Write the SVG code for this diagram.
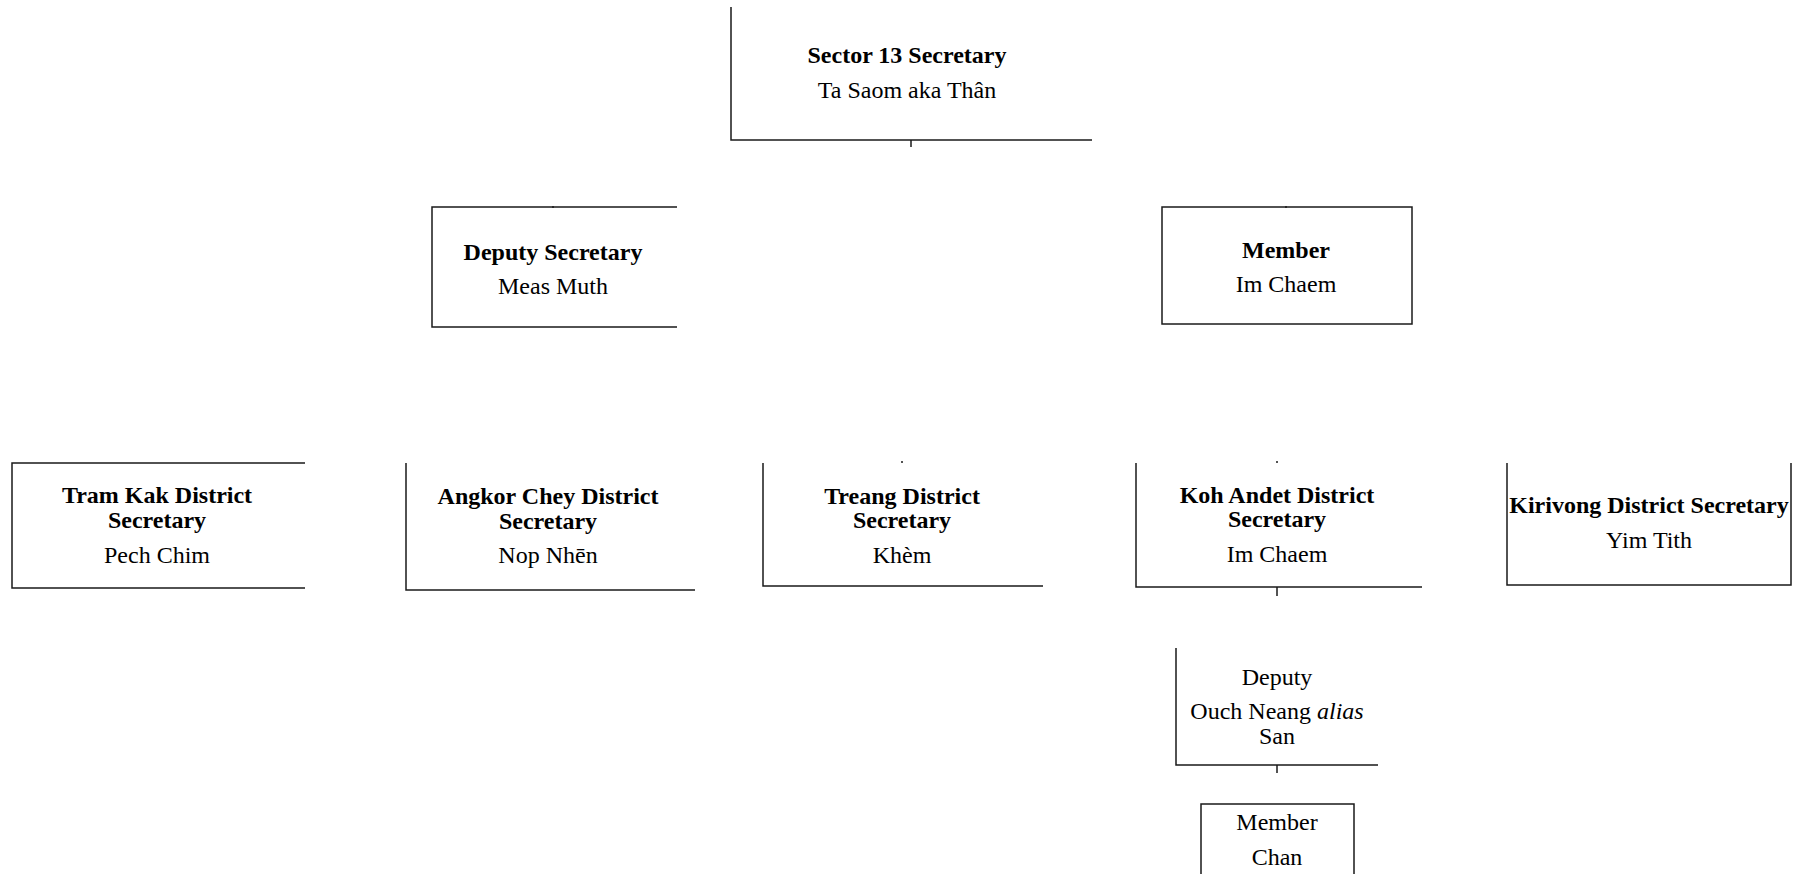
<svg xmlns="http://www.w3.org/2000/svg" width="1802" height="874" viewBox="0 0 1802 874">
<style>
.ln{stroke:#1a1a1a;stroke-width:1.5;fill:none}
.b{font-family:"Liberation Serif","Times New Roman",serif;font-size:24px;font-weight:bold;fill:#000;text-anchor:middle}
.r{font-family:"Liberation Serif","Times New Roman",serif;font-size:24px;fill:#000;text-anchor:middle}
</style>
<rect width="1802" height="874" fill="#fff"/>
<g id="connectors">
<path class="ln" d="M911 140V147"/>
<path class="ln" d="M553 206V208"/>
<path class="ln" d="M1286 206V208"/>
<path class="ln" d="M902 461V463"/>
<path class="ln" d="M1277 461V463"/>
<path class="ln" d="M1277 587V596"/>
<path class="ln" d="M1277 765V773"/>
</g>
<g id="sector13">
<path class="ln" d="M731 7V140H1092"/>
<text class="b" x="907" y="63">Sector 13 Secretary</text>
<text class="r" x="907" y="98">Ta Saom aka Thân</text>
</g>
<g id="deputy-secretary">
<path class="ln" d="M677 207H432V327H677"/>
<text class="b" x="553" y="260">Deputy Secretary</text>
<text class="r" x="553" y="294">Meas Muth</text>
</g>
<g id="member">
<rect class="ln" x="1162" y="207" width="250" height="117"/>
<text class="b" x="1286" y="258">Member</text>
<text class="r" x="1286" y="292">Im Chaem</text>
</g>
<g id="tram-kak">
<path class="ln" d="M305 463H12V588H305"/>
<text class="b" x="157" y="503">Tram Kak District</text>
<text class="b" x="157" y="528">Secretary</text>
<text class="r" x="157" y="563">Pech Chim</text>
</g>
<g id="angkor-chey">
<path class="ln" d="M406 463V590H695"/>
<text class="b" x="548" y="504">Angkor Chey District</text>
<text class="b" x="548" y="529">Secretary</text>
<text class="r" x="548" y="563">Nop Nhēn</text>
</g>
<g id="treang">
<path class="ln" d="M763 463V586H1043"/>
<text class="b" x="902" y="504">Treang District</text>
<text class="b" x="902" y="528">Secretary</text>
<text class="r" x="902" y="563">Khèm</text>
</g>
<g id="koh-andet">
<path class="ln" d="M1136 463V587H1422"/>
<text class="b" x="1277" y="503">Koh Andet District</text>
<text class="b" x="1277" y="527">Secretary</text>
<text class="r" x="1277" y="562">Im Chaem</text>
</g>
<g id="kirivong">
<path class="ln" d="M1507 463V585H1791V463"/>
<text class="b" x="1649" y="513">Kirivong District Secretary</text>
<text class="r" x="1649" y="548">Yim Tith</text>
</g>
<g id="deputy-koh-andet">
<path class="ln" d="M1176 648V765H1378"/>
<text class="r" x="1277" y="685">Deputy</text>
<text class="r" x="1277" y="719">Ouch Neang <tspan font-style="italic">alias</tspan></text>
<text class="r" x="1277" y="744">San</text>
</g>
<g id="member-chan">
<path class="ln" d="M1201 880V804H1354V880"/>
<text class="r" x="1277" y="830">Member</text>
<text class="r" x="1277" y="865">Chan</text>
</g>
</svg>
